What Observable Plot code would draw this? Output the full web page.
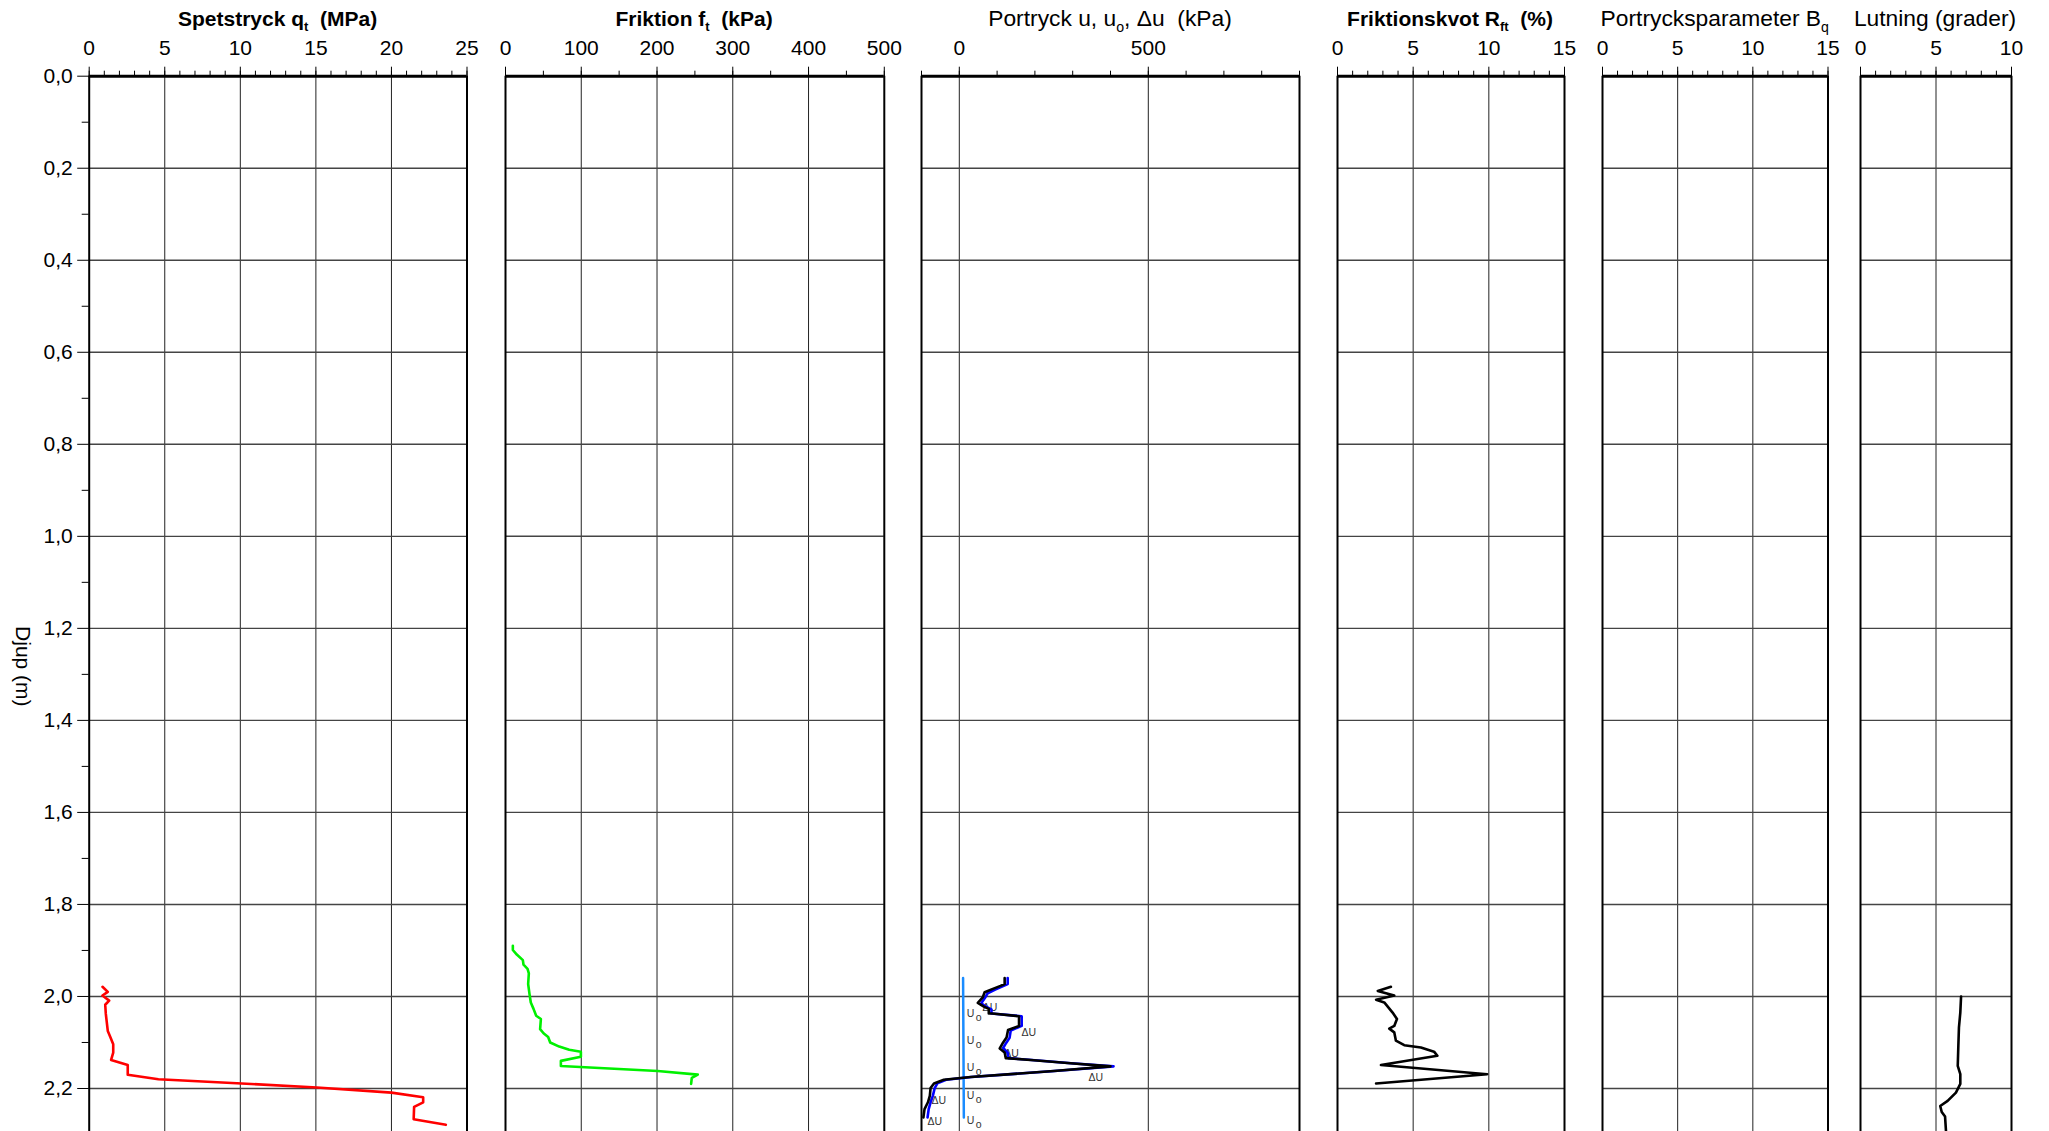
<!DOCTYPE html>
<html><head><meta charset="utf-8">
<script src="https://cdn.jsdelivr.net/npm/d3@7"></script>
<script src="https://cdn.jsdelivr.net/npm/@observablehq/plot@0.6"></script>
<style>
html,body{margin:0;padding:0;background:#fff;overflow:hidden;}
#chart{position:relative;width:2049px;height:1131px;overflow:hidden;font-family:"Liberation Sans",Arial,sans-serif;color:#000;}
.title{position:absolute;top:7px;font-size:21px;line-height:24px;white-space:nowrap;transform:translateX(-50%);}
.title.reg{font-size:22.8px;top:6px;}
.title sub{font-size:0.62em;vertical-align:-0.4em;line-height:0;}
.panel{position:absolute;top:0;}
</style></head><body><div id="chart"></div>
<script>
// ---------- data ----------
const depthTicks = [0, 0.2, 0.4, 0.6, 0.8, 1.0, 1.2, 1.4, 1.6, 1.8, 2.0, 2.2];
const depthMinor = [0.1, 0.3, 0.5, 0.7, 0.9, 1.1, 1.3, 1.5, 1.7, 1.9, 2.1];

// [depth (m), qt (MPa)]
const qt = [[1.979,0.88],[1.990,1.23],[1.998,0.88],[2.009,1.32],[2.018,1.06],[2.038,1.10],[2.075,1.23],[2.089,1.41],[2.104,1.59],[2.122,1.59],[2.138,1.45],[2.149,2.55],[2.170,2.55],[2.180,4.58],[2.189,10.09],[2.198,15.06],[2.209,20.0],[2.219,22.1],[2.230,22.1],[2.240,21.5],[2.267,21.47],[2.279,23.6]];
// [depth (m), ft (kPa)]
const ft = [[1.890,9.7],[1.899,9.7],[1.909,14.9],[1.921,22.9],[1.931,23.8],[1.940,29.1],[1.950,30.8],[1.973,29.9],[1.995,31.7],[2.013,33.4],[2.027,37.0],[2.042,40.5],[2.049,46.7],[2.071,45.7],[2.080,50.2],[2.088,56.3],[2.100,59.0],[2.109,70.9],[2.116,84.1],[2.120,99.5],[2.131,99.5],[2.140,73.1],[2.151,73.1],[2.162,200.9],[2.170,253.8],[2.177,245.9],[2.190,245.0]];
// [depth (m), u (kPa)] black line
const uMeasured = [[1.960,120],[1.973,120],[1.977,109],[1.984,87],[1.991,67],[2.002,62],[2.014,49],[2.022,65],[2.027,78],[2.037,78],[2.037,87],[2.043,158],[2.064,158],[2.073,129],[2.089,125],[2.100,116],[2.113,107],[2.122,120],[2.134,123],[2.138,189],[2.145,294],[2.152,400],[2.162,250],[2.175,30],[2.181,-41],[2.189,-67],[2.199,-76],[2.216,-78],[2.230,-83],[2.245,-92],[2.263,-95]];
// [depth (m), Δu (kPa)] blue line
const uDelta = [[1.960,128],[1.973,128],[1.985,95],[1.993,75],[2.003,68],[2.015,58],[2.023,72],[2.028,85],[2.037,85],[2.043,165],[2.064,165],[2.074,136],[2.090,133],[2.101,124],[2.112,116],[2.122,128],[2.134,130],[2.138,192],[2.145,296],[2.152,408],[2.162,252],[2.175,32],[2.181,-35],[2.189,-58],[2.199,-65],[2.216,-70],[2.230,-76],[2.245,-81],[2.263,-84]];
// [depth (m), u0 (kPa)]
const u0 = [[1.960,10],[2.110,11],[2.263,12]];
const u0Labels = [[2.038,30],[2.096,30],[2.154,30],[2.216,30],[2.270,30]];
const duLabels = [[2.024,81],[2.078,184],[2.124,138],[2.177,361],[2.227,-54],[2.272,-65]];
// [depth (m), Rft (%)]
const rft = [[1.979,3.53],[1.988,2.66],[1.998,3.75],[2.007,2.55],[2.013,3.09],[2.022,3.32],[2.035,3.64],[2.049,3.93],[2.064,3.75],[2.070,3.42],[2.078,3.75],[2.096,3.86],[2.106,4.41],[2.111,5.51],[2.120,6.38],[2.129,6.60],[2.149,2.87],[2.169,9.89],[2.189,2.55]];
// [depth (m), lutning (grader)]
const lutning = [[2.000,6.66],[2.035,6.61],[2.067,6.52],[2.107,6.48],[2.151,6.44],[2.169,6.61],[2.190,6.61],[2.209,6.32],[2.227,5.77],[2.238,5.28],[2.251,5.38],[2.261,5.60],[2.292,5.66]];

const qtTicks = [0,5,10,15,20,25];
const ftTicks = [0,100,200,300,400,500];
const uTicks = [0,500];
const rftTicks = [0,5,10,15];
const bqTicks = [0,5,10,15];
const lutTicks = [0,5,10];

// ---------- layout ----------
const TOP = 75.7, H = 1134, YDOM = [0, 2.3];
const FONT = '"Liberation Sans", Arial, sans-serif';
const range = (a, b, s) => d3.range(a, b + s / 2, s);

const panels = [
  {left:88.7, right:466.5, domain:[0,25], ticks:qtTicks, minor:range(0,25,1), grid:[5,10,15,20], svgLeft:0,
   title:'<b>Spetstryck q<sub>t</sub>&nbsp; (MPa)</b>', cls:"",
   marks:[Plot.line(qt,{x:d=>d[1],y:d=>d[0],stroke:"#ff0000",strokeWidth:2.6})], yAxis:true},
  {left:504.7, right:883.5, domain:[0,500], ticks:ftTicks, minor:range(0,500,50), grid:[100,200,300,400],
   title:'<b>Friktion f<sub>t</sub>&nbsp; (kPa)</b>', cls:"",
   marks:[Plot.line(ft,{x:d=>d[1],y:d=>d[0],stroke:"#00f000",strokeWidth:2.6})]},
  {left:921, right:1299, domain:[-100,900], ticks:uTicks, minor:range(-100,900,100), grid:[0,500],
   title:'Portryck u, u<sub>o</sub>, Δu&nbsp; (kPa)', cls:"reg",
   marks:[
     Plot.text(u0Labels,{x:d=>d[1],y:d=>d[0],text:()=>"U",fontSize:10.5,fill:"#333"}),
     Plot.text(u0Labels,{x:d=>d[1],y:d=>d[0],text:()=>"o",fontSize:10.5,fill:"#333",dx:8,dy:4}),
     Plot.text(duLabels,{x:d=>d[1],y:d=>d[0],text:()=>"ΔU",fontSize:10.5,fill:"#333"}),
     Plot.line(u0,{x:d=>d[1],y:d=>d[0],stroke:"#1a8cff",strokeWidth:2.5}),
     Plot.line(uDelta,{x:d=>d[1],y:d=>d[0],stroke:"#0000ff",strokeWidth:2.6}),
     Plot.line(uMeasured,{x:d=>d[1],y:d=>d[0],stroke:"#000",strokeWidth:2.6})
   ]},
  {left:1336.5, right:1563.5, domain:[0,15], ticks:rftTicks, minor:range(0,15,1), grid:[5,10],
   title:'<b>Friktionskvot R<sub>ft</sub>&nbsp; (%)</b>', cls:"",
   marks:[Plot.line(rft,{x:d=>d[1],y:d=>d[0],stroke:"#000",strokeWidth:2.6})]},
  {left:1602, right:1827.5, domain:[0,15], ticks:bqTicks, minor:range(0,15,1), grid:[5,10],
   title:'Portrycksparameter B<sub>q</sub>', cls:"reg", marks:[]},
  {left:1859.5, right:2010.5, domain:[0,10], ticks:lutTicks, minor:range(0,10,1), grid:[5],
   title:'Lutning (grader)', cls:"reg",
   marks:[Plot.line(lutning,{x:d=>d[1],y:d=>d[0],stroke:"#000",strokeWidth:2.6})]}
];

const chart = document.getElementById("chart");
for (const p of panels) {
  const svgLeft = p.svgLeft !== undefined ? p.svgLeft : p.left - 30;
  const mL = p.left - svgLeft, mR = 30;
  const width = mL + (p.right - p.left) + mR;
  const marks = [
    Plot.ruleX(p.grid, {stroke:"#222", strokeWidth:1}),
    Plot.ruleY(depthTicks.slice(1), {stroke:"#444", strokeWidth:1.4}),
    ...p.marks,
    Plot.ruleX(p.domain, {stroke:"#000", strokeWidth:2}),
    Plot.ruleY([0], {stroke:"#000", strokeWidth:3}),
    Plot.axisX({anchor:"top", ticks:p.minor, tickSize:6, tickFormat:()=>"", label:null}),
    Plot.axisX({anchor:"top", ticks:p.ticks, tickSize:10, tickPadding:11, tickFormat:d=>String(d), label:null})
  ];
  if (p.yAxis) {
    marks.push(
      Plot.axisY({anchor:"left", ticks:depthTicks, tickSize:11.5, tickPadding:5,
        tickFormat:d=>d.toFixed(1).replace(".", ","), label:null}),
      Plot.axisY({anchor:"left", ticks:depthMinor, tickSize:7, tickFormat:()=>"", label:null}),
      Plot.text(["Djup (m)"], {frameAnchor:"left", textAnchor:"middle", dx:-66, dy:61, rotate:90, fontSize:21})
    );
  }
  const svg = Plot.plot({
    width, height:H,
    marginTop:TOP, marginBottom:0, marginLeft:mL, marginRight:mR,
    style:{background:"none", fontFamily:FONT, fontSize:"21px", color:"#000", overflow:"visible"},
    x:{domain:p.domain},
    y:{domain:YDOM, reverse:true, axis: p.yAxis ? undefined : null},
    marks
  });
  const wrap = document.createElement("div");
  wrap.className = "panel";
  wrap.style.left = svgLeft + "px";
  wrap.appendChild(svg);
  chart.appendChild(wrap);

  const t = document.createElement("div");
  t.className = "title " + p.cls;
  t.style.left = ((p.left + p.right) / 2) + "px";
  t.innerHTML = p.title;
  chart.appendChild(t);
}
</script></body></html>
